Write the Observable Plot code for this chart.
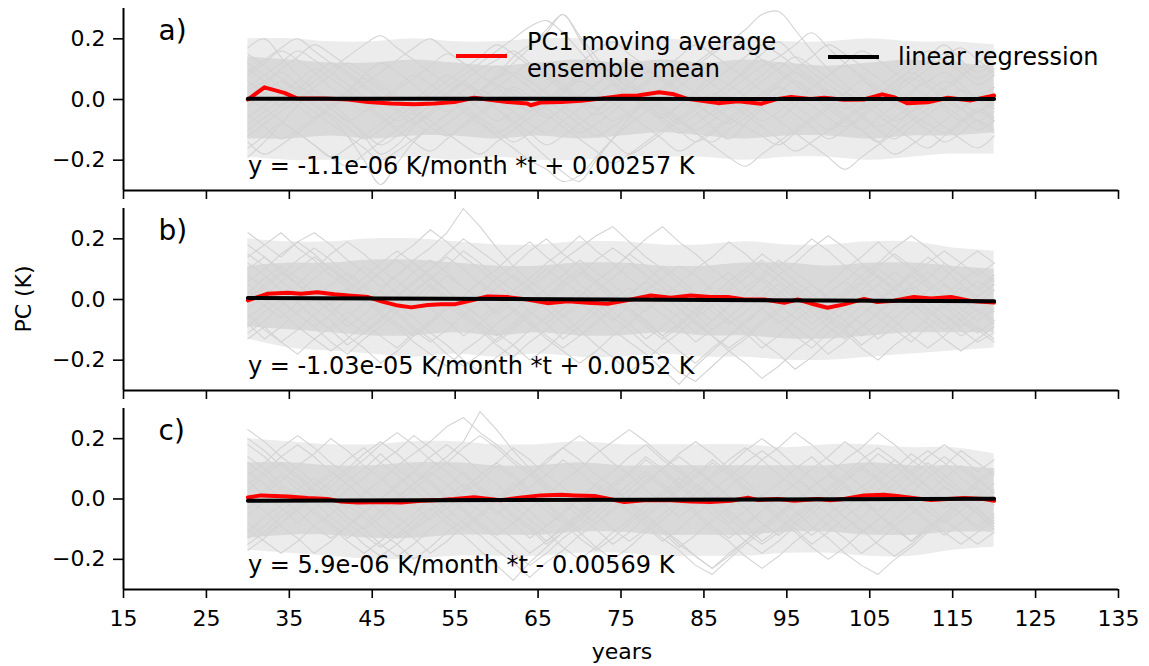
<!DOCTYPE html>
<html><head><meta charset="utf-8">
<script src="https://cdn.jsdelivr.net/npm/d3@7"></script>
<script src="https://cdn.jsdelivr.net/npm/@observablehq/plot@0.6"></script>
<style>
html,body{margin:0;padding:0;background:#fff;}
#wrap{position:relative;width:1149px;height:666px;overflow:hidden;font-family:"DejaVu Sans",sans-serif;}
#wrap > svg{position:absolute;left:0;}
</style></head>
<body><div id="wrap"></div>
<script>
// ---------- data ----------
const xTicks = [15,25,35,45,55,65,75,85,95,105,115,125,135];
const yTicks = [-0.2,0.0,0.2];
const panelLabels = ["a)","b)","c)"];
const equations = [
  "y = -1.1e-06 K/month *t + 0.00257 K",
  "y = -1.03e-05 K/month *t + 0.0052 K",
  "y = 5.9e-06 K/month *t - 0.00569 K"
];
const slopes = [-1.1e-06, -1.03e-05, 5.9e-06];      // K per month
const intercepts = [0.00257, 0.0052, -0.00569];     // K
const regYears = [30, 120];
const legendLabels = ["PC1 moving average\nensemble mean", "linear regression"];

// spread of the ensemble (K): dense core and lighter outer zone
const coreYears = [30,35,40,45,50,55,60,65,70,75,80,85,90,95,100,105,110,115,120];
const coreHiA = [0.14,0.13,0.12,0.12,0.13,0.12,0.11,0.12,0.13,0.12,0.13,0.12,0.13,0.12,0.11,0.12,0.13,0.12,0.11];
const coreLoA = [-0.13,-0.13,-0.12,-0.13,-0.12,-0.12,-0.13,-0.12,-0.13,-0.12,-0.11,-0.12,-0.13,-0.12,-0.12,-0.13,-0.12,-0.12,-0.11];
const coreHiB = [0.11,0.12,0.12,0.13,0.13,0.12,0.11,0.11,0.12,0.12,0.11,0.11,0.12,0.12,0.11,0.12,0.12,0.11,0.1];
const coreLoB = [-0.09,-0.1,-0.11,-0.12,-0.12,-0.11,-0.12,-0.11,-0.12,-0.12,-0.11,-0.12,-0.12,-0.13,-0.13,-0.12,-0.11,-0.11,-0.11];
const coreHiC = [0.12,0.12,0.11,0.11,0.12,0.12,0.11,0.11,0.12,0.11,0.11,0.11,0.11,0.11,0.11,0.12,0.11,0.11,0.1];
const coreLoC = [-0.13,-0.12,-0.12,-0.13,-0.13,-0.12,-0.12,-0.12,-0.11,-0.11,-0.12,-0.12,-0.12,-0.11,-0.11,-0.12,-0.12,-0.11,-0.11];
const outerHiA = [0.2,0.2,0.19,0.19,0.2,0.19,0.19,0.2,0.2,0.19,0.2,0.19,0.2,0.19,0.19,0.2,0.19,0.19,0.18];
const outerLoA = [-0.19,-0.2,-0.2,-0.2,-0.19,-0.2,-0.19,-0.2,-0.2,-0.19,-0.19,-0.19,-0.2,-0.19,-0.19,-0.2,-0.19,-0.18,-0.18];
const outerHiB = [0.2,0.19,0.19,0.2,0.2,0.19,0.18,0.18,0.19,0.19,0.18,0.18,0.19,0.18,0.18,0.19,0.19,0.17,0.16];
const outerLoB = [-0.13,-0.16,-0.17,-0.18,-0.19,-0.18,-0.19,-0.18,-0.19,-0.19,-0.18,-0.19,-0.19,-0.2,-0.2,-0.19,-0.18,-0.17,-0.16];
const outerHiC = [0.2,0.19,0.18,0.18,0.19,0.19,0.18,0.18,0.19,0.18,0.18,0.18,0.18,0.17,0.18,0.18,0.17,0.17,0.15];
const outerLoC = [-0.17,-0.18,-0.19,-0.2,-0.2,-0.19,-0.19,-0.19,-0.18,-0.18,-0.19,-0.19,-0.19,-0.18,-0.18,-0.19,-0.19,-0.17,-0.16];

// ensemble members (0.01 K), years 30,32,...,120
const memberYears = [30,32,34,36,38,40,42,44,46,48,50,52,54,56,58,60,62,64,66,68,70,72,74,76,78,80,82,84,86,88,90,92,94,96,98,100,102,104,106,108,110,112,114,116,118,120];

const grayA = [
[17,20,14,8,3,-2,2,8,12,9,5,0,-4,-1,3,8,14,18,22,28,20,12,6,2,-3,-6,-2,3,7,5,1,-3,-6,-2,4,8,11,7,2,-1,3,6,9,5,1,4],
[-19,-14,-8,-2,3,-1,-6,-12,-18,-15,-9,-4,1,5,2,-3,-8,-14,-19,-24,-27,-20,-13,-6,-1,3,0,-4,-9,-13,-8,-3,2,6,3,-1,-5,-10,-14,-9,-4,1,-2,-6,-10,-7],
[8,12,16,13,9,4,0,-4,-1,3,7,11,15,12,8,5,2,-2,-6,-3,1,5,9,13,10,6,2,-2,1,5,10,15,19,14,9,5,1,-3,0,4,8,12,15,11,7,10],
[-5,-9,-13,-10,-6,-2,3,7,4,0,-4,-9,-12,-8,-4,0,4,1,-3,-7,-11,-8,-4,1,5,9,6,2,-2,-6,-9,-12,-15,-11,-7,-3,2,6,3,-1,-5,-8,-11,-7,-3,-6],
[3,6,10,14,18,15,11,7,3,-1,-5,-2,2,6,10,13,16,12,8,4,0,-3,1,5,9,7,3,-1,-5,-8,-4,0,4,1,-2,-6,-9,-5,-1,3,7,4,0,-3,1,4],
[12,8,4,0,-4,-8,-12,-16,-20,-17,-13,-9,-5,-1,3,0,-4,-8,-11,-7,-3,1,5,2,-2,-6,-10,-14,-11,-7,-3,1,5,9,6,2,-2,-6,-10,-13,-9,-5,-1,3,0,-3],
[-10,-6,-2,2,6,10,14,18,21,17,13,9,5,1,-3,-7,-4,0,4,8,12,16,19,15,11,7,3,-1,-5,-2,2,6,10,14,11,7,3,-1,2,6,10,14,18,13,9,12],
[0,-3,-7,-11,-15,-19,-16,-12,-8,-4,0,4,8,5,1,-3,-7,-11,-15,-12,-8,-4,0,4,1,-3,-7,-11,-15,-19,-22,-18,-14,-10,-6,-2,2,-1,-5,-9,-13,-16,-12,-8,-4,-7],
[6,2,-2,3,8,12,9,5,1,-3,-7,-11,-8,-4,0,4,8,12,9,5,1,-3,-7,-4,0,4,8,12,16,20,17,13,9,5,1,-3,-7,-10,-6,-2,2,6,3,-1,-4,-1],
[-14,-18,-15,-11,-7,-3,1,-2,-6,-10,-14,-17,-13,-9,-5,-1,3,-1,-5,-9,-13,-17,-21,-18,-14,-10,-6,-2,2,-1,-5,-9,-13,-17,-14,-10,-6,-2,2,-2,-6,-10,-14,-11,-7,-10],
[10,6,2,-2,-6,-3,1,5,9,13,17,20,16,12,8,4,0,-4,-1,3,7,11,8,4,0,-4,-8,-5,-1,3,7,11,14,18,22,17,12,8,4,0,-4,-1,3,7,11,8],
[-8,-4,0,4,1,-3,-7,-4,0,4,8,5,1,-3,-7,-11,-8,-4,0,4,8,12,9,5,1,-3,-7,-11,-14,-10,-6,-2,2,-2,-6,-10,-7,-3,1,5,9,5,1,-3,-7,-4],
[15,11,7,3,-1,-5,-9,-13,-10,-6,-2,2,6,10,14,18,15,11,7,3,-1,-5,-2,2,6,10,14,18,15,11,7,3,-1,-5,-9,-13,-10,-6,-2,2,6,10,14,17,13,9],
[-2,2,6,2,-2,-6,-12,-20,-28,-21,-14,-9,-5,-1,3,7,9,6,2,-2,-6,-10,-14,-18,-15,-11,-7,-3,1,5,9,13,10,6,2,-2,-6,-10,-14,-18,-15,-11,-7,-3,1,-2],
[4,8,12,16,13,9,5,1,-3,-7,-4,0,4,8,12,16,20,24,26,22,16,10,5,1,-3,-7,-11,-8,-4,0,4,8,12,9,5,1,-3,0,4,8,12,16,13,9,5,8],
[-6,-2,2,6,10,7,3,-1,-5,-9,-6,-2,2,6,3,7,12,17,23,28,21,14,8,3,-1,-5,-2,2,6,10,14,18,15,11,7,3,-1,-5,-9,-6,-2,2,6,3,-1,2],
[1,5,9,5,1,-3,-7,-11,-15,-12,-8,-4,0,-4,-8,-12,-16,-20,-23,-27,-25,-19,-13,-8,-4,0,4,8,5,1,-3,-7,-4,0,4,8,12,16,13,9,5,1,-3,-7,-4,0],
[-12,-8,-4,0,4,8,12,9,5,1,-3,-7,-11,-15,-18,-14,-10,-6,-2,2,6,3,-1,-5,-9,-13,-17,-14,-10,-6,-2,2,6,10,14,18,15,11,7,3,-1,-5,-9,-13,-16,-12],
[9,13,17,20,16,12,8,4,0,-4,-8,-5,-1,3,7,11,8,4,0,-4,-8,-12,-9,-5,-1,3,7,11,15,19,23,28,29,23,16,10,5,1,-3,-7,-4,0,4,8,12,16],
[-16,-12,-8,-11,-15,-19,-22,-18,-14,-10,-6,-2,2,-2,-6,-10,-14,-11,-7,-3,1,5,9,6,2,-2,-6,-10,-7,-3,1,-3,-7,-11,-15,-19,-23,-19,-15,-11,-7,-3,1,-3,-7,-11]
];

const grayB = [
[22,18,14,19,15,10,6,11,7,2,-2,3,8,4,0,-4,1,5,10,6,2,-3,-7,-2,3,7,11,8,3,-1,4,8,13,9,5,0,-4,1,5,9,5,1,-3,2,6,3],
[-13,-9,-14,-18,-13,-9,-4,-8,-12,-16,-11,-7,-2,-6,-10,-15,-19,-14,-10,-5,-1,-5,-10,-14,-18,-23,-28,-22,-17,-12,-8,-3,-7,-12,-16,-11,-7,-2,-6,-10,-14,-9,-5,-10,-14,-11],
[10,14,9,5,10,15,19,15,10,6,2,7,11,16,12,7,3,-1,4,8,13,9,5,0,-4,1,5,10,14,19,15,10,6,2,-3,2,6,11,7,3,8,12,16,12,8,12],
[3,-2,-6,-1,3,-2,-7,-11,-7,-2,2,-3,-7,-12,-8,-3,1,-4,-8,-13,-9,-4,0,4,-1,-5,-9,-14,-10,-6,-1,3,-2,-6,-10,-6,-1,3,8,4,-1,-5,-1,4,0,-4],
[15,11,6,2,7,11,6,2,-3,1,6,10,15,20,16,12,7,3,-1,-6,-2,3,7,12,8,4,-1,-5,0,4,9,13,8,4,0,-5,-9,-5,0,4,9,14,10,5,1,5],
[-5,-10,-14,-10,-5,-1,4,0,-5,-9,-14,-18,-22,-17,-13,-8,-4,1,-3,-8,-12,-8,-3,1,6,2,-3,-7,-12,-16,-12,-7,-3,2,-2,-7,-11,-16,-20,-15,-11,-6,-2,-7,-11,-7],
[6,10,15,19,22,18,13,9,4,8,13,17,22,30,24,17,11,6,2,-3,1,6,10,15,11,6,2,-3,-7,-2,2,7,11,15,20,16,11,7,2,-2,3,7,12,8,4,8],
[-9,-4,0,-5,-9,-14,-18,-13,-9,-4,0,5,1,-4,-8,-12,-8,-3,1,6,10,6,1,-3,-8,-12,-17,-21,-16,-12,-7,-3,2,6,2,-3,-7,-12,-8,-3,1,-4,-8,-12,-9,-13],
[0,5,9,5,0,-4,-9,-5,0,4,9,13,9,4,0,-5,-1,4,8,13,17,21,24,19,14,10,5,1,-4,-8,-4,1,5,0,-4,-9,-13,-9,-4,0,5,9,5,0,-4,0],
[12,8,3,-1,-6,-10,-15,-11,-6,-2,3,7,3,-2,-6,-11,-15,-20,-16,-11,-7,-2,2,-3,-7,-12,-8,-3,1,6,10,15,11,6,2,-3,2,6,11,15,11,6,2,-3,-7,-3],
[-3,1,6,10,14,10,5,1,-4,-8,-12,-8,-3,1,6,10,15,19,14,10,5,1,-4,-8,-13,-9,-4,0,5,9,4,0,-5,-9,-13,-18,-14,-9,-5,0,4,-1,-5,-9,-5,-1],
[18,14,10,5,1,-4,0,5,9,14,18,23,19,14,10,5,1,-4,-8,-3,1,6,10,15,20,24,19,15,10,6,1,-3,-8,-4,1,5,10,14,19,14,10,5,1,6,10,6],
[-8,-13,-9,-4,0,5,9,5,0,-4,-9,-13,-18,-22,-18,-13,-9,-4,0,5,9,5,0,-4,-9,-13,-9,-4,0,-5,-9,-14,-18,-23,-19,-14,-10,-5,-1,4,8,4,-1,-5,-10,-14],
[8,4,-1,-5,-9,-5,0,4,9,13,9,4,0,-5,-9,-14,-10,-5,-1,4,8,13,17,13,8,4,-1,-5,-10,-6,-1,3,8,12,17,21,17,12,8,3,-1,-6,-10,-6,-1,3],
[-1,4,8,13,17,13,8,4,-1,-5,-10,-14,-10,-5,-1,4,8,4,-1,-5,-10,-15,-19,-24,-20,-15,-11,-6,-2,3,7,12,8,3,-1,-6,-10,-15,-11,-6,-2,3,7,12,16,12],
[5,0,-4,-9,-13,-17,-13,-8,-4,1,5,10,14,10,5,1,-4,-8,-13,-17,-21,-17,-12,-8,-3,1,-3,-8,-12,-17,-21,-26,-22,-17,-13,-8,-4,1,5,1,-4,-8,-13,-17,-13,-9],
[14,18,22,17,13,8,4,-1,3,8,12,8,3,-1,-6,-2,3,7,12,16,21,16,12,7,3,-2,-6,-11,-7,-2,2,7,3,-2,-6,-1,3,8,12,17,21,17,12,8,3,7],
[-11,-7,-2,2,-3,-7,-12,-16,-21,-17,-12,-8,-3,1,6,2,-3,-7,-12,-16,-12,-7,-3,2,6,11,7,2,-2,-7,-11,-16,-12,-7,-3,2,6,2,-3,-7,-12,-16,-12,-7,-3,-7],
[2,7,11,7,2,-2,3,7,12,16,12,7,3,-2,2,7,11,16,20,15,11,6,2,-3,-7,-12,-8,-3,1,6,10,6,1,-3,-8,-4,1,5,10,6,1,-3,-8,-4,1,5],
[-6,-2,3,-1,-6,-10,-6,-1,3,-2,-6,-11,-15,-20,-24,-19,-15,-10,-6,-1,3,-1,-6,-10,-15,-19,-24,-27,-22,-17,-13,-8,-4,1,5,1,-4,-8,-13,-9,-4,0,5,1,-4,-8]
];

const grayC = [
[23,19,14,10,5,1,-3,2,6,11,15,19,24,27,22,18,13,9,4,0,-4,1,5,9,14,10,5,1,-3,-8,-4,1,5,10,14,9,5,0,-4,1,5,10,14,10,6,10],
[-17,-13,-8,-4,1,-3,-8,-12,-16,-12,-7,-3,-8,-12,-17,-22,-27,-21,-16,-11,-7,-2,2,-2,-7,-11,-16,-12,-7,-3,2,-2,-7,-11,-16,-20,-16,-11,-7,-2,2,-2,-7,-11,-15,-11],
[5,9,14,18,14,9,5,0,-4,1,5,10,14,19,29,23,16,10,5,1,-4,-8,-4,1,5,10,14,10,5,1,-3,-8,-12,-8,-3,1,6,10,15,11,6,2,-3,1,6,2],
[-5,-1,4,0,-5,-9,-14,-18,-14,-9,-5,0,4,9,4,0,-5,-9,-14,-10,-5,-1,4,8,13,9,4,0,-5,-9,-14,-18,-14,-9,-5,0,4,0,-5,-9,-14,-9,-5,0,-4,-8],
[12,8,3,-1,4,8,13,17,12,8,3,-1,-6,-10,-6,-1,3,8,12,17,21,17,12,8,3,-1,-6,-2,3,7,12,16,12,7,3,-2,-6,-11,-7,-2,2,7,11,16,12,8],
[-10,-14,-18,-14,-9,-5,0,-4,-9,-13,-9,-4,0,5,1,-4,-8,-13,-9,-4,0,5,1,-4,-8,-13,-17,-22,-25,-20,-15,-11,-6,-2,3,-1,-6,-10,-15,-19,-15,-10,-6,-1,-5,-10],
[18,14,9,5,0,4,9,13,18,22,18,13,9,4,0,-5,-1,4,8,13,9,4,0,-5,-9,-14,-10,-5,-1,4,8,13,17,22,18,13,9,4,0,5,9,14,18,14,9,13],
[0,-4,-9,-13,-18,-14,-9,-5,0,4,9,5,0,-4,-9,-13,-18,-22,-18,-13,-9,-4,0,5,9,5,0,-4,-9,-13,-9,-4,0,-4,-9,-13,-18,-22,-25,-20,-16,-11,-7,-2,2,-2],
[8,12,17,21,17,12,8,3,-1,-6,-10,-6,-1,3,8,12,17,13,8,4,-1,-5,-10,-14,-10,-5,-1,4,8,13,17,13,8,4,-1,-5,-10,-6,-1,3,8,12,8,3,-1,3],
[-13,-9,-4,0,5,9,5,0,-4,-9,-13,-18,-14,-9,-5,0,5,1,-4,-8,-13,-17,-13,-8,-4,1,5,10,6,1,-3,-8,-12,-8,-3,1,6,10,6,1,-3,-8,-12,-8,-3,-8],
[3,8,12,8,3,-1,-6,-10,-6,-1,3,8,12,17,21,17,12,8,3,-1,-6,-10,-15,-11,-6,-2,3,7,12,8,3,-1,-6,-10,-15,-11,-6,-2,3,7,12,16,12,7,3,-1],
[-8,-12,-8,-3,1,6,10,15,19,15,10,6,1,-3,-8,-12,-8,-3,1,6,10,15,19,23,19,14,10,5,1,-4,-8,-4,1,5,10,14,19,15,10,6,1,-4,-8,-4,1,5],
[14,10,5,1,-4,-8,-13,-9,-4,0,5,9,5,0,-4,-9,-13,-18,-14,-9,-5,0,4,-1,-5,-10,-14,-19,-23,-19,-14,-10,-5,-1,4,8,4,-1,-5,-10,-14,-10,-5,0,4,0],
[-3,2,6,11,15,20,16,11,7,2,-2,-7,-3,2,6,11,7,2,-2,-7,-11,-16,-20,-16,-11,-7,-2,2,7,11,16,20,16,11,7,2,-2,-7,-11,-7,-2,2,7,11,7,2],
[9,5,0,-4,-9,-13,-9,-4,0,5,9,14,18,14,9,5,0,-4,-9,-5,0,5,9,14,18,13,9,4,0,-5,-9,-14,-10,-5,-1,4,8,13,17,13,8,4,-1,-5,-10,-6],
[-15,-11,-6,-2,3,-1,-6,-10,-15,-19,-15,-10,-6,-1,3,-1,-6,-10,-15,-11,-6,-2,3,-1,-6,-10,-15,-19,-23,-18,-14,-9,-5,0,-4,-9,-13,-18,-14,-9,-5,0,4,0,-5,-9],
[6,1,-3,-8,-3,1,6,10,15,10,6,1,-3,-8,-12,-17,-21,-26,-21,-17,-12,-8,-3,1,6,10,15,19,15,10,6,1,-3,-8,-12,-8,-3,1,6,10,15,11,6,2,-3,1],
[-1,3,8,3,-1,-6,-10,-15,-19,-15,-10,-6,-1,3,8,12,8,3,-1,-6,-10,-6,-1,3,8,4,-1,-5,-10,-14,-19,-23,-19,-14,-10,-5,-1,4,8,13,9,4,0,-5,-9,-5],
[20,16,11,7,2,-2,3,7,12,16,21,17,12,8,3,-1,4,8,13,17,13,8,4,-1,-5,-1,4,8,13,9,4,0,-5,-1,4,8,13,17,22,18,13,9,4,0,5,9],
[-11,-6,-2,3,7,3,-2,-6,-11,-15,-20,-16,-11,-7,-2,2,-2,-7,-11,-16,-20,-16,-11,-7,-2,2,7,3,-2,-6,-11,-15,-11,-6,-2,3,7,11,7,2,-2,-7,-11,-15,-11,-7]
];

// ensemble mean (moving average), K
const redYearsA = [30,32,34.4,36,39.2,42.1,44.5,47.3,50.1,52.5,54.9,57.3,58.9,61.3,63.7,64.1,65.3,67.8,70.2,72.6,75,77,79.6,81.4,83,86.7,89.1,91.9,93.9,95.5,97.9,99.5,101.9,104.3,106.5,107.9,109.5,112,114.4,117.2,120];
const redA = [0,0.04,0.022,0.003,0.003,0,-0.008,-0.013,-0.016,-0.013,-0.008,0.006,0,-0.008,-0.013,-0.019,-0.01,-0.008,-0.004,0.003,0.012,0.013,0.024,0.017,0.002,-0.012,-0.006,-0.014,0.002,0.008,0.002,0.006,-0.001,0,0.017,0.008,-0.012,-0.009,0.006,-0.003,0.013];
const redYearsB = [30,32.4,34.8,36.4,38.4,40.4,42.1,44.5,46.1,48.1,49.7,51.7,53.3,54.9,56.5,58.9,61.3,63.7,66.1,68.6,71,73.4,76.2,78.6,81,83.4,85.8,87.9,89.9,92.3,94.7,96.3,97.9,99.9,101.9,104.3,105.9,107.9,110.3,112.4,114.8,117.2,120];
const redB = [-0.003,0.019,0.022,0.019,0.024,0.017,0.013,0.008,-0.006,-0.02,-0.026,-0.018,-0.016,-0.016,-0.006,0.01,0.008,0,-0.012,-0.006,-0.011,-0.014,0,0.013,0.006,0.013,0.008,0.008,0,0,-0.011,0,-0.013,-0.027,-0.016,0.002,-0.008,-0.004,0.008,0.003,0.008,-0.005,-0.01];
const redYearsC = [30,31.6,34.8,37.2,39.6,41.2,43.3,46.1,48.5,50.9,53.3,54.9,57.3,60.5,62.5,65.3,67.8,69.4,71.8,75.4,77.8,81,83.4,85.8,88.3,90.3,91.5,93.9,95.9,98.7,100.3,101.9,104.3,106.7,108.3,110.7,112.4,116.4,118.8,120];
const redC = [0.005,0.012,0.008,0.003,0,-0.008,-0.012,-0.01,-0.012,-0.006,-0.003,0,0.006,-0.004,0.003,0.012,0.014,0.012,0.01,-0.01,-0.004,-0.004,-0.008,-0.01,-0.006,0.004,-0.003,0,-0.006,0,-0.004,0,0.012,0.014,0.01,0.002,-0.003,0.003,0,-0.006];

// ---------- drawing ----------
const W = 1149;
const FONT = "DejaVu Sans, sans-serif";
const wrap = document.getElementById("wrap");

const panels = [
  {gray: grayA, hi: coreHiA, lo: coreLoA, ohi: outerHiA, olo: outerLoA, ry: redYearsA, rv: redA, curve: "catmull-rom", top: 0, height: 200, mb: 10, showX: false},
  {gray: grayB, hi: coreHiB, lo: coreLoB, ohi: outerHiB, olo: outerLoB, ry: redYearsB, rv: redB, curve: "linear", top: 200, height: 200, mb: 10, showX: false},
  {gray: grayC, hi: coreHiC, lo: coreLoC, ohi: outerHiC, olo: outerLoC, ry: redYearsC, rv: redC, curve: "linear", top: 400, height: 266, mb: 77, showX: true}
];

panels.forEach((p, k) => {
  const grayData = p.gray.flatMap((arr, m) => arr.map((v, i) => ({m, year: memberYears[i], v: v / 100})));
  const bandData = coreYears.map((y, i) => ({year: y, hi: p.hi[i], lo: p.lo[i], ohi: p.ohi[i], olo: p.olo[i]}));
  const redData = p.ry.map((y, i) => ({year: y, v: p.rv[i]}));
  const regData = regYears.map(y => ({year: y, v: intercepts[k] + slopes[k] * (y - regYears[0]) * 12}));
  const svg = Plot.plot({
    width: W, height: p.height,
    marginTop: 8, marginBottom: p.mb, marginLeft: 123, marginRight: 31,
    style: {fontFamily: FONT, fontSize: "22px", color: "black", background: "transparent", overflow: "visible"},
    x: {domain: [15, 135]},
    y: {domain: [-0.3, 0.3]},
    marks: [
      Plot.areaY(bandData, {x: "year", y1: "olo", y2: "ohi", fill: "#ececec", curve: "catmull-rom"}),
      Plot.areaY(bandData, {x: "year", y1: "lo", y2: "hi", fill: "#d9d9d9", curve: "catmull-rom"}),
      Plot.line(grayData, {x: "year", y: "v", z: "m", stroke: "#d3d3d3", strokeWidth: 1.1, curve: p.curve, clip: true}),
      Plot.line(redData, {x: "year", y: "v", stroke: "#ff0000", strokeWidth: 4}),
      Plot.line(regData, {x: "year", y: "v", stroke: "black", strokeWidth: 4}),
      Plot.axisY({ticks: yTicks, tickFormat: d3.format(".1f"), tickSize: 10, tickPadding: 8, label: null, strokeWidth: 1.6}),
      Plot.axisX({ticks: xTicks, tickSize: 9, tickPadding: 12, label: null, strokeWidth: 1.6,
                  tickFormat: p.showX ? (d => String(d)) : (() => "")}),
      Plot.ruleX([15], {strokeWidth: 2}),
      Plot.ruleY([-0.3], {strokeWidth: 2}),
      Plot.text([panelLabels[k]], {frameAnchor: "top-left", dx: 35, dy: 12, fontSize: 28, lineAnchor: "top"}),
      Plot.text([equations[k]], {x: regYears[0], y: -0.245, textAnchor: "start", lineAnchor: "bottom", fontSize: 24})
    ]
  });
  svg.style.top = p.top + "px";
  wrap.appendChild(svg);
});

// overlay: axis titles and legend
const ov = d3.select(wrap).append("svg")
  .attr("width", W).attr("height", 666)
  .style("top", "0px")
  .style("font-family", FONT);

ov.append("text").attr("transform", "translate(31,299) rotate(-90)")
  .attr("text-anchor", "middle").attr("font-size", 22).text("PC (K)");
ov.append("text").attr("x", 622).attr("y", 659)
  .attr("text-anchor", "middle").attr("font-size", 22).text("years");

// legend
ov.append("line").attr("x1", 456).attr("x2", 507).attr("y1", 56).attr("y2", 56)
  .attr("stroke", "#ff0000").attr("stroke-width", 4);
const lt = ov.append("text").attr("font-size", 24);
legendLabels[0].split("\n").forEach((s, i) => {
  lt.append("tspan").attr("x", 527).attr("y", 50 + i * 27).text(s);
});
ov.append("line").attr("x1", 828).attr("x2", 879).attr("y1", 57).attr("y2", 57)
  .attr("stroke", "black").attr("stroke-width", 4);
ov.append("text").attr("x", 898).attr("y", 65).attr("font-size", 24).text(legendLabels[1]);
</script>
</body></html>
